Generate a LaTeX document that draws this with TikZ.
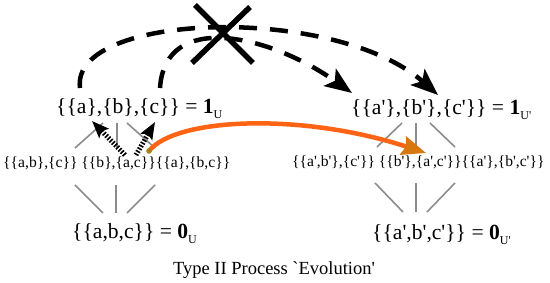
\documentclass[tikz,border=0pt]{standalone}
\usepackage{fontspec}
\setmainfont{Liberation Serif}
\usetikzlibrary{arrows.meta}
\definecolor{orangeline}{RGB}{255,100,20}
\definecolor{orangetip}{RGB}{215,120,15}
\definecolor{olivedot}{RGB}{165,130,30}
\newcommand{\lowsub}[1]{\raisebox{-0.5ex}{\fontsize{12}{12}\selectfont #1}}
\newcommand{\pq}{\textquotesingle}
\tikzset{
  big/.style={font=\fontsize{21.6}{24}\selectfont, inner sep=0pt, anchor=base west},
  mid/.style={font=\fontsize{15.6}{18}\selectfont, inner sep=0pt, anchor=base west},
  captext/.style={font=\fontsize{18.5}{22}\selectfont, inner sep=0pt, anchor=base},
  hasse/.style={draw=black!45, line width=1.6pt},
  jump/.style={line width=4.5pt, dash pattern=on 18pt off 13pt,
    -{Stealth[length=27pt,width=21pt,inset=6pt]}},
  stripe/.style={line width=5pt, dash pattern=on 1.6pt off 1.6pt,
    -{Stealth[length=17pt,width=13pt,inset=3pt]}},
  cross/.style={line width=5.5pt},
  evol/.style={draw=orangeline, line width=4.5pt,
    -{Stealth[length=24pt,width=19pt,inset=3pt,color=orangetip]}}
}
\begin{document}
\begin{tikzpicture}[x=1pt,y=-1pt]
\useasboundingbox (0,0) rectangle (550,283);

% labels
\node[big] (oneL) at (56,114) {\{\{a\},\{b\},\{c\}\} = \textbf{1}\lowsub{U}};
\node[big] (oneR) at (351,115) {\{\{a\pq\},\{b\pq\},\{c\pq\}\} = \textbf{1}\lowsub{U\pq}};
\node[mid] (midL) at (3,168) {\{\{a,b\},\{c\}\} \{\{b\},\{a,c\}\}\{\{a\},\{b,c\}\}};
\node[mid] (midR) at (292,167) {\{\{a\pq,b\pq\},\{c\pq\}\} \{\{b\pq\},\{a\pq,c\pq\}\}\{\{a\pq\},\{b\pq,c\pq\}\}};
\node[big] (zeroL) at (72,239) {\{\{a,b,c\}\} = \textbf{0}\lowsub{U}};
\node[big] (zeroR) at (372,240) {\{\{a\pq,b\pq,c\pq\}\} = \textbf{0}\lowsub{U\pq}};
\node[captext] (cap) at (274,275) {Type II Process \textasciigrave Evolution\pq};

% Hasse coordinates, left
\coordinate (la1) at (103,123); \coordinate (la2) at (75,148);
\coordinate (lb1) at (117,123); \coordinate (lb2) at (117,148);
\coordinate (lc1) at (127,123); \coordinate (lc2) at (155,148);
\coordinate (ld1) at (75,185);  \coordinate (ld2) at (103,213);
\coordinate (le1) at (116,185); \coordinate (le2) at (116,213);
\coordinate (lf1) at (155,185); \coordinate (lf2) at (127,213);
% right
\coordinate (ra1) at (402,123); \coordinate (ra2) at (377,147);
\coordinate (rb1) at (416,123); \coordinate (rb2) at (416,147);
\coordinate (rc1) at (430,123); \coordinate (rc2) at (455,147);
\coordinate (rd1) at (375,183); \coordinate (rd2) at (403,212);
\coordinate (re1) at (416,183); \coordinate (re2) at (416,212);
\coordinate (rf1) at (455,183); \coordinate (rf2) at (427,212);

\foreach \p in {la,lb,lc,ld,le,lf,ra,rb,rc,rd,re,rf}
  \draw[hasse] (\p1) -- (\p2);

% dashed jumps
\coordinate (j1s) at (80,88);  \coordinate (j1e) at (438,95);
\coordinate (j2s) at (160,88); \coordinate (j2e) at (352,93);
\draw[jump] (j1s) .. controls (70,12) and (335,4) .. (j1e);
\draw[jump] (j2s) .. controls (165,10) and (270,35) .. (j2e);

% cross
\coordinate (x1) at (195,5);  \coordinate (x2) at (253,63);
\coordinate (x3) at (250,7);  \coordinate (x4) at (192,63);
\draw[cross] (x1) -- (x2);
\draw[cross] (x3) -- (x4);

% striped arrows
\coordinate (s1s) at (125,155); \coordinate (s1e) at (92,121);
\coordinate (s2s) at (136,155); \coordinate (s2e) at (155,122);
\draw[stripe] (s1s) -- (s1e);
\draw[stripe] (s2s) -- (s2e);

% evolution arrow
\coordinate (es) at (149,151); \coordinate (ee) at (426,153);
\draw[evol] (es) .. controls (175,118) and (300,112) .. (ee);
\fill[olivedot] (es) circle (2.8);
\end{tikzpicture}
\end{document}
